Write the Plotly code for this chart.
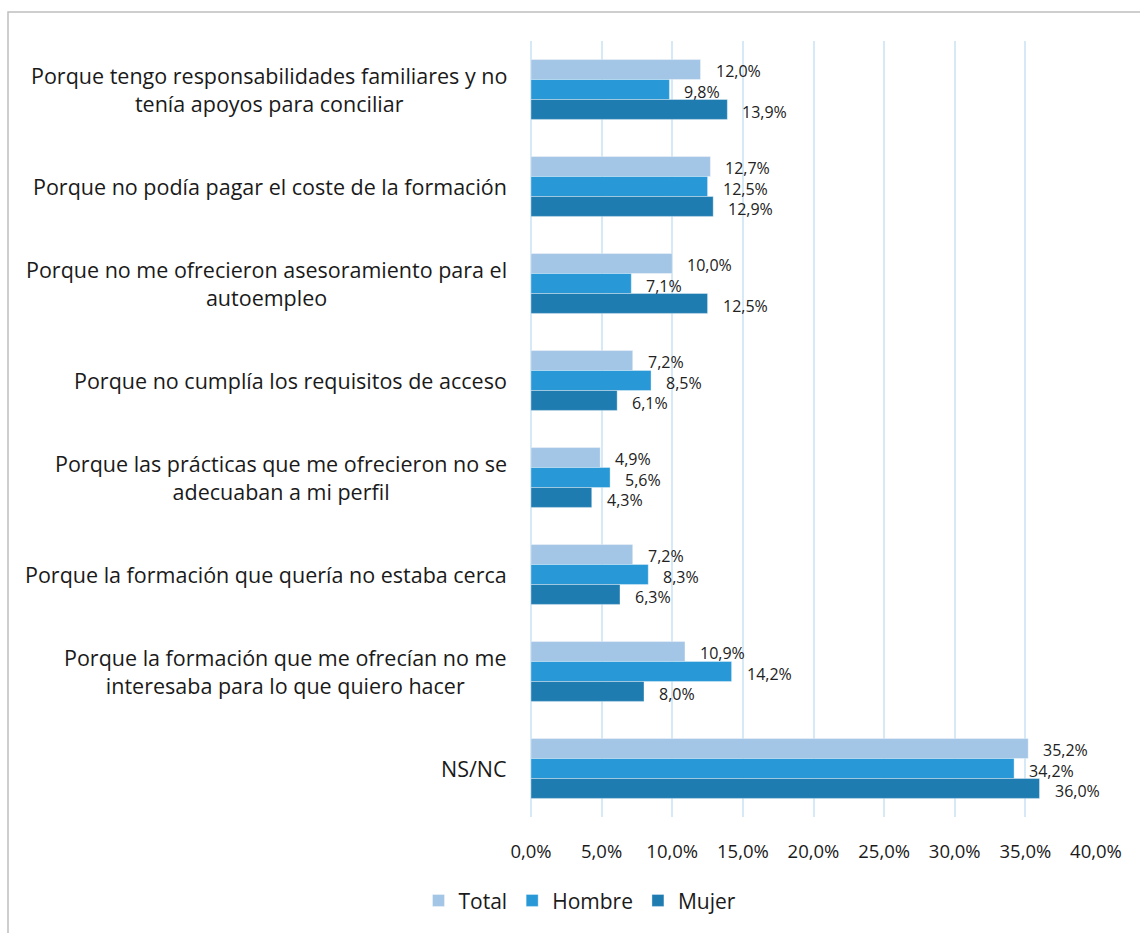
import plotly.graph_objects as go

# Survey reasons (top to bottom) and shares by group, in percent
categories = [
    "Porque tengo responsabilidades familiares y no<br>tenía apoyos para conciliar",
    "Porque no podía pagar el coste de la formación",
    "Porque no me ofrecieron asesoramiento para el<br>autoempleo",
    "Porque no cumplía los requisitos de acceso",
    "Porque las prácticas que me ofrecieron no se<br>adecuaban a mi perfil",
    "Porque la formación que quería no estaba cerca",
    "Porque la formación que me ofrecían no me<br>interesaba para lo que quiero hacer",
    "NS/NC",
]
total = [12.0, 12.7, 10.0, 7.2, 4.9, 7.2, 10.9, 35.2]
hombre = [9.8, 12.5, 7.1, 8.5, 5.6, 8.3, 14.2, 34.2]
mujer = [13.9, 12.9, 12.5, 6.1, 4.3, 6.3, 8.0, 36.0]

series = [
    ("Total", total, "#A3C5E6"),
    ("Hombre", hombre, "#2998D6"),
    ("Mujer", mujer, "#1F7CB1"),
]
x_ticks = [0, 5, 10, 15, 20, 25, 30, 35, 40]

FONT = "Open Sans"
W, H = 1140, 933
M_L, M_R, M_T, M_B = 531, 44, 41, 114
BARGAP = 0.383

fig = go.Figure()
for name, vals, color in series:
    fig.add_trace(go.Bar(
        y=categories, x=vals, name=name, orientation="h",
        marker=dict(color=color, line=dict(color="rgba(255,255,255,0.6)", width=0.6)),
    ))

# Pixel geometry used for the value labels
plot_h = H - M_T - M_B
band = plot_h / len(categories)
bar_px = band * (1 - BARGAP) / len(series)

annotations = []
for i, (name, vals, color) in enumerate(series):
    offset = (1 - i) * bar_px  # Total on top, Mujer at bottom
    for cat, v in zip(categories, vals):
        annotations.append(dict(
            x=v, y=cat, xref="x", yref="y",
            text=f"{v:.1f}%".replace(".", ","),
            showarrow=False, xanchor="left", yanchor="middle",
            xshift=13, yshift=offset - 2,
            font=dict(family=FONT, size=16, color="#222222"),
        ))

# Category labels, centred line by line and right-aligned to the axis
for cat in categories:
    annotations.append(dict(
        x=0, y=cat, xref="paper", yref="y",
        text=cat, showarrow=False, xanchor="right", yanchor="middle",
        align="center", xshift=-22,
        font=dict(family=FONT, size=21.5, color="#1a1a1a"),
    ))

fig.update_layout(
    width=W, height=H,
    margin=dict(l=M_L, r=M_R, t=M_T, b=M_B),
    paper_bgcolor="white", plot_bgcolor="white",
    barmode="group", bargap=BARGAP, bargroupgap=0,
    separators=",.",
    annotations=annotations,
    showlegend=True,
    legend=dict(
        orientation="h", x=(580 - M_L) / (W - M_L - M_R), xanchor="center",
        y=-(903 - (H - M_B)) / plot_h, yanchor="middle",
        font=dict(family=FONT, size=21, color="#1a1a1a"),
        traceorder="normal", itemwidth=30,
    ),
    shapes=[dict(
        type="rect", xref="paper", yref="paper",
        x0=(8 - M_L) / (W - M_L - M_R), x1=(1170 - M_L) / (W - M_L - M_R),
        y0=-(960 - (H - M_B)) / plot_h, y1=((H - M_B) - 12) / plot_h,
        line=dict(color="#BFBFBF", width=1.5), fillcolor="rgba(0,0,0,0)",
        layer="below",
    )],
)
fig.update_xaxes(
    range=[0, 40], tickvals=x_ticks,
    ticktext=[f"{t:.1f}%".replace(".", ",") for t in x_ticks],
    showgrid=True, gridcolor="#D5E9F7", gridwidth=2,
    zeroline=True, zerolinecolor="#D5E9F7", zerolinewidth=2,
    showline=False, ticks="", ticklabelstandoff=21,
    tickfont=dict(family=FONT, size=18.5, color="#1a1a1a"),
)
fig.update_yaxes(
    autorange="reversed", showticklabels=False, showgrid=False,
    zeroline=False, showline=False, ticks="",
)

fig.write_html("out.html")
